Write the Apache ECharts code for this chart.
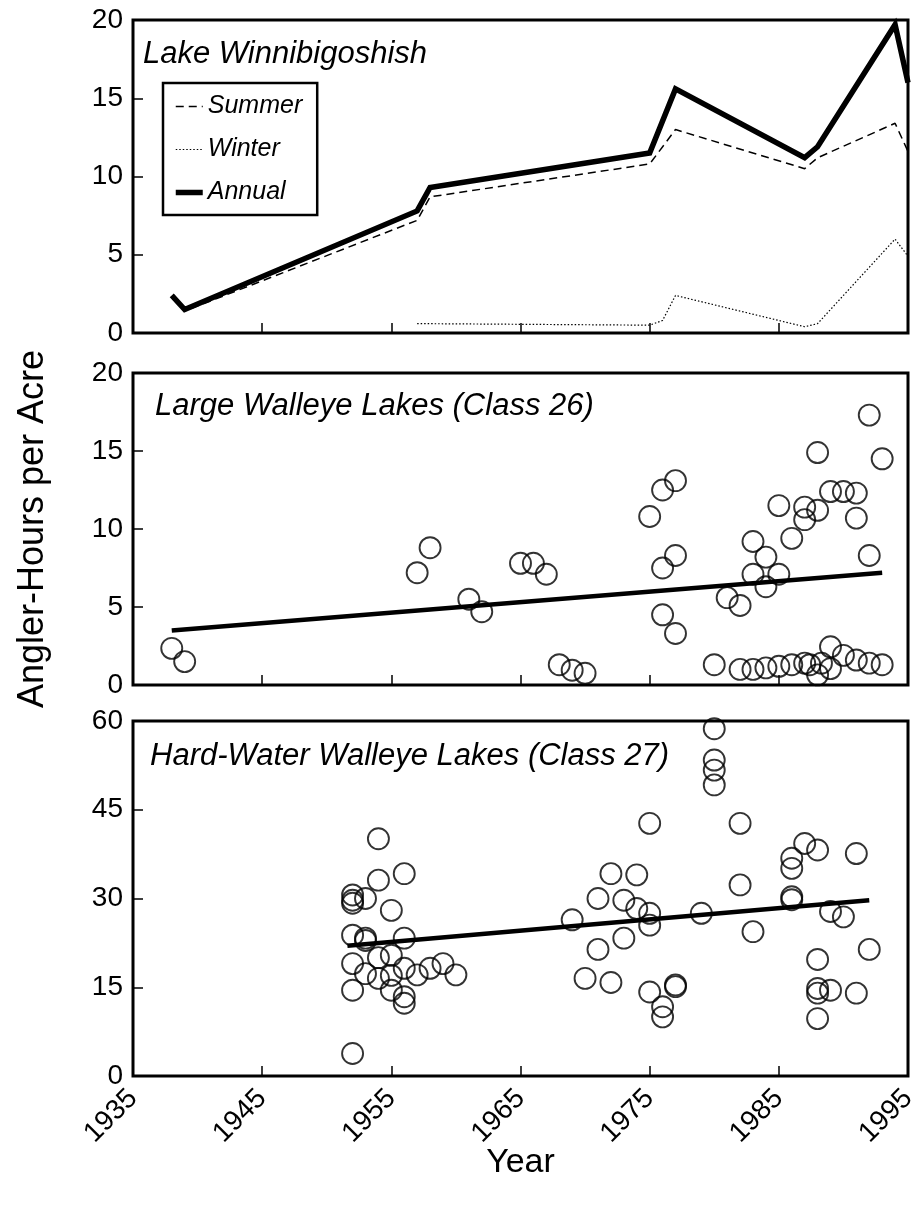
<!DOCTYPE html>
<html>
<head>
<meta charset="utf-8">
<script src="https://cdn.jsdelivr.net/npm/echarts@6/dist/echarts.min.js"></script>
<style>
  html, body { margin: 0; padding: 0; background: #fff; }
  #chart { width: 914px; height: 1209px; }
</style>
</head>
<body>
<div id="chart"></div>
<script>
// ---------- Data ----------
const xTicks = [1935, 1945, 1955, 1965, 1975, 1985, 1995];

// Panel 1: Lake Winnibigoshish
const annualYears = [1938, 1939, 1957, 1958, 1975, 1977, 1987, 1988, 1994, 1995];
const annualVals  = [2.4, 1.5, 7.8, 9.3, 11.5, 15.6, 11.2, 11.9, 19.7, 16.0];
const summerYears = [1938, 1939, 1957, 1958, 1975, 1977, 1987, 1988, 1994, 1995];
const summerVals  = [2.3, 1.4, 7.2, 8.7, 10.8, 13.0, 10.5, 11.2, 13.4, 11.6];
const winterYears = [1957, 1975, 1976, 1977, 1987, 1988, 1994, 1995];
const winterVals  = [0.6, 0.5, 0.8, 2.4, 0.4, 0.6, 6.0, 4.9];

// Panel 2: Large Walleye Lakes (Class 26)
const c26Years = [1938, 1939, 1957, 1958, 1961, 1962, 1965, 1966, 1967, 1968, 1969, 1970,
  1975, 1976, 1977, 1976, 1977, 1976, 1977,
  1981, 1982, 1983, 1983, 1984, 1984, 1985, 1985, 1986, 1987, 1987, 1988, 1988,
  1989, 1990, 1991, 1991, 1992, 1992, 1993,
  1980, 1982, 1983, 1984, 1985, 1986, 1987, 1987.4, 1988, 1988.3, 1989, 1989, 1990, 1991, 1992, 1993];
const c26Vals = [2.35, 1.5, 7.2, 8.8, 5.5, 4.7, 7.8, 7.8, 7.1, 1.3, 0.95, 0.75,
  10.8, 12.5, 13.1, 7.5, 8.3, 4.5, 3.3,
  5.6, 5.1, 9.2, 7.1, 8.2, 6.3, 11.5, 7.1, 9.4, 11.4, 10.6, 14.9, 11.2,
  12.4, 12.4, 12.3, 10.7, 17.3, 8.3, 14.5,
  1.3, 1.0, 1.0, 1.1, 1.2, 1.3, 1.4, 1.3, 0.65, 1.4, 2.45, 1.05, 1.9, 1.6, 1.4, 1.3];
const c26TrendYears = [1938, 1993];
const c26TrendVals  = [3.5, 7.2];

// Panel 3: Hard-Water Walleye Lakes (Class 27)
const c27Years = [1952, 1952, 1952, 1953, 1954, 1954, 1956, 1955, 1952, 1953, 1953, 1956,
  1955, 1954, 1952, 1953, 1954, 1955, 1956, 1957, 1958, 1959, 1960, 1952, 1955, 1956, 1956, 1952,
  1969, 1970, 1971, 1971, 1972, 1972, 1973, 1973, 1974, 1974, 1975, 1975, 1975, 1975,
  1976, 1976, 1977, 1977, 1979, 1980, 1980, 1980, 1980, 1982, 1982, 1983,
  1986, 1986, 1986, 1986, 1987, 1988, 1988, 1988, 1988, 1988, 1989, 1989, 1990, 1991, 1991, 1992];
const c27Vals = [30.6, 29.7, 29.2, 30.0, 40.1, 33.1, 34.2, 28.0, 23.8, 23.3, 22.9, 23.3,
  20.4, 20.0, 19.0, 17.3, 16.5, 17.0, 18.2, 17.1, 18.2, 19.0, 17.1, 14.5, 14.5, 13.4, 12.3, 3.8,
  26.4, 16.5, 30.0, 21.4, 34.2, 15.8, 29.7, 23.3, 34.0, 28.3, 42.7, 27.5, 25.5, 14.2,
  11.7, 10.0, 15.4, 15.1, 27.5, 58.7, 53.4, 51.7, 49.2, 42.7, 32.3, 24.4,
  36.8, 35.1, 30.3, 29.8, 39.3, 38.2, 19.7, 14.8, 14.0, 9.7, 27.8, 14.5, 26.9, 37.6, 14.0, 21.4];
const c27TrendYears = [1951.6, 1992];
const c27TrendVals  = [22.0, 29.7];

const titles = ['Lake Winnibigoshish', 'Large Walleye Lakes (Class 26)', 'Hard-Water Walleye Lakes (Class 27)'];
const legendNames = ['Summer', 'Winter', 'Annual'];
const yTitle = 'Angler-Hours per Acre';
const xTitle = 'Year';

// ---------- Helpers ----------
const zip = (xs, ys) => xs.map((x, i) => [x, ys[i]]);
const FONT = '"Liberation Sans", Arial, Helvetica, sans-serif';

const gridTops = [20, 373, 721];
const gridHeights = [313, 312, 355];

const lineStyles = {
  Summer: { color: '#000', width: 1.5, type: [8, 5] },
  Winter: { color: '#000', width: 1.2, type: [1.5, 2] },
  Annual: { color: '#000', width: 5.5, join: 'miter' }
};

function xAxisFor(i) {
  return {
    type: 'value', gridIndex: i, min: xTicks[0], max: xTicks[xTicks.length - 1], interval: 10,
    axisLine: { show: false },
    axisTick: { show: true, inside: true, length: 10, lineStyle: { color: '#000', width: 1.5 } },
    splitLine: { show: false },
    axisLabel: i === 2 ? {
      show: true, rotate: 45, fontSize: 28, color: '#000', fontFamily: FONT, margin: 18,
      formatter: v => String(v)
    } : { show: false },
    name: i === 2 ? xTitle : '',
    nameLocation: 'middle', nameGap: 70, nameMoveOverlap: false,
    nameTextStyle: { fontSize: 34, color: '#000', fontFamily: FONT }
  };
}
function yAxisFor(i, max, interval) {
  return {
    type: 'value', gridIndex: i, min: 0, max: max, interval: interval,
    axisLine: { show: false },
    axisTick: { show: true, inside: true, length: 10, lineStyle: { color: '#000', width: 1.5 } },
    splitLine: { show: false },
    axisLabel: { fontSize: 28, color: '#000', fontFamily: FONT, margin: 10 },
    name: i === 1 ? yTitle : '',
    nameLocation: 'middle', nameGap: 82, nameMoveOverlap: false,
    nameTextStyle: { fontSize: 36, color: '#000', fontFamily: FONT }
  };
}

const scatterStyle = { color: 'rgba(255,255,255,0)', borderColor: '#000', borderWidth: 1.9 };

const option = {
  animation: false,
  backgroundColor: '#fff',
  title: titles.map((t, i) => ({
    text: t,
    left: [143, 155, 150][i],
    top: [39, 391, 741][i],
    padding: 0,
    textStyle: { fontSize: 31, fontStyle: 'italic', fontWeight: 'normal', color: '#000', fontFamily: FONT }
  })),
  legend: {
    data: legendNames.map(n => ({ name: n, lineStyle: lineStyles[n] })),
    orient: 'vertical',
    left: 163, top: 83,
    padding: [11, 15, 10, 10],
    itemGap: 18,
    itemWidth: 27, itemHeight: 14,
    borderColor: '#000', borderWidth: 2.5, borderRadius: 0,
    itemStyle: { color: 'rgba(0,0,0,0)', borderColor: 'rgba(0,0,0,0)', borderWidth: 0 },
    textStyle: { fontSize: 25, fontStyle: 'italic', color: '#000', fontFamily: FONT }
  },
  grid: gridTops.map((t, i) => ({
    left: 133, right: 6, top: t, height: gridHeights[i],
    outerBoundsMode: 'none', containLabel: false,
    show: true, borderColor: '#000', borderWidth: 3, backgroundColor: 'transparent'
  })),
  xAxis: [xAxisFor(0), xAxisFor(1), xAxisFor(2)],
  yAxis: [yAxisFor(0, 20, 5), yAxisFor(1, 20, 5), yAxisFor(2, 60, 15)],
  series: [
    {
      name: 'Summer', type: 'line', xAxisIndex: 0, yAxisIndex: 0, symbol: 'none',
      data: zip(summerYears, summerVals),
      lineStyle: lineStyles.Summer, itemStyle: { color: '#000' }
    },
    {
      name: 'Winter', type: 'line', xAxisIndex: 0, yAxisIndex: 0, symbol: 'none',
      data: zip(winterYears, winterVals),
      lineStyle: lineStyles.Winter, itemStyle: { color: '#000' }
    },
    {
      name: 'Annual', type: 'line', xAxisIndex: 0, yAxisIndex: 0, symbol: 'none',
      data: zip(annualYears, annualVals),
      lineStyle: lineStyles.Annual, itemStyle: { color: '#000' }
    },
    {
      name: 'Class 26', type: 'scatter', xAxisIndex: 1, yAxisIndex: 1,
      symbol: 'circle', symbolSize: 21, data: zip(c26Years, c26Vals), itemStyle: scatterStyle
    },
    {
      name: 'Class 26 trend', type: 'line', xAxisIndex: 1, yAxisIndex: 1, symbol: 'none',
      data: zip(c26TrendYears, c26TrendVals), lineStyle: { color: '#000', width: 4.5 }
    },
    {
      name: 'Class 27', type: 'scatter', xAxisIndex: 2, yAxisIndex: 2,
      symbol: 'circle', symbolSize: 21, data: zip(c27Years, c27Vals), itemStyle: scatterStyle
    },
    {
      name: 'Class 27 trend', type: 'line', xAxisIndex: 2, yAxisIndex: 2, symbol: 'none',
      data: zip(c27TrendYears, c27TrendVals), lineStyle: { color: '#000', width: 4.5 }
    }
  ]
};

const chart = echarts.init(document.getElementById('chart'), null, { renderer: 'canvas' });
chart.setOption(option);
</script>
</body>
</html>
